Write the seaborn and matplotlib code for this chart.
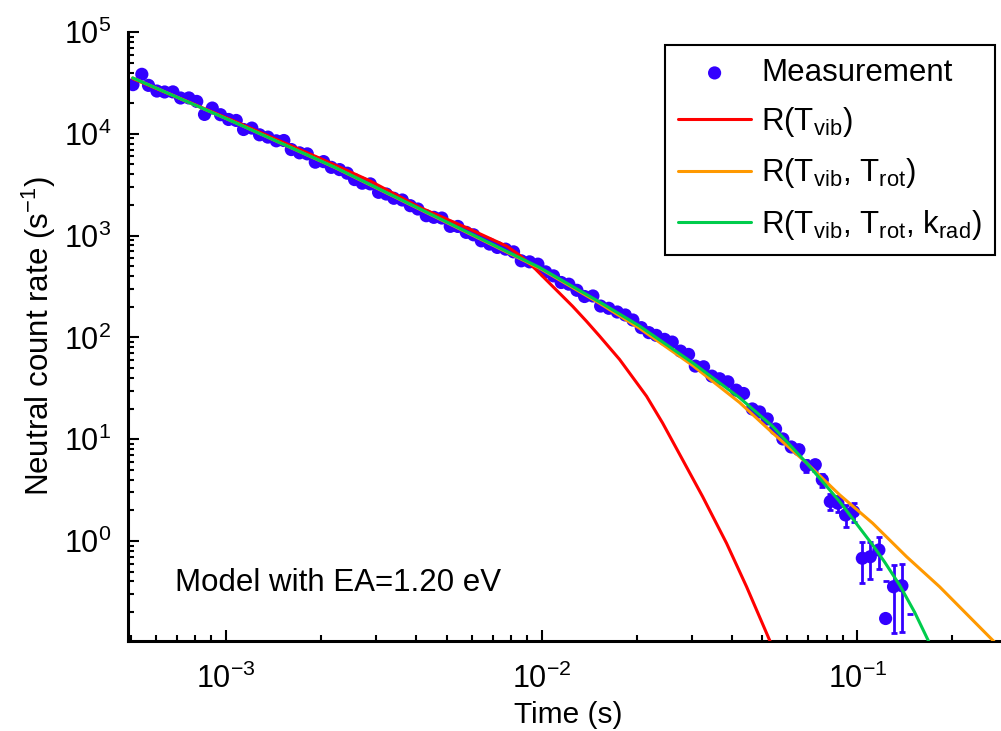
import numpy as np
import pandas as pd
import matplotlib
matplotlib.use("Agg")
import matplotlib.pyplot as plt
from matplotlib.ticker import LogLocator, NullFormatter, FixedLocator
import seaborn as sns

# Measured neutral count rate versus storage time
meas_time = [
    5.08e-4, 5.42e-4, 5.69e-4, 6.05e-4, 6.40e-4, 6.80e-4, 7.19e-4, 7.64e-4, 8.09e-4, 8.56e-4,
    9.06e-4, 9.62e-4, 1.020e-3, 1.079e-3, 1.138e-3, 1.209e-3, 1.279e-3, 1.359e-3, 1.445e-3, 1.527e-3,
    1.612e-3, 1.712e-3, 1.811e-3, 1.920e-3, 2.040e-3, 2.158e-3, 2.292e-3, 2.424e-3, 2.557e-3, 2.704e-3,
    2.867e-3, 3.046e-3, 3.222e-3, 3.405e-3, 3.621e-3, 3.839e-3, 4.057e-3, 4.313e-3, 4.559e-3, 4.832e-3,
    5.137e-3, 5.430e-3, 5.772e-3, 6.088e-3, 6.442e-3, 6.845e-3, 7.240e-3, 7.691e-3, 8.152e-3, 8.624e-3,
    9.162e-3, 9.734e-3, 1.030e-2, 1.091e-2, 1.154e-2, 1.220e-2, 1.294e-2, 1.368e-2, 1.454e-2, 1.538e-2,
    1.633e-2, 1.737e-2, 1.841e-2, 1.946e-2, 2.069e-2, 2.187e-2, 2.308e-2, 2.452e-2, 2.593e-2, 2.755e-2,
    2.921e-2, 3.068e-2, 3.259e-2, 3.462e-2, 3.663e-2, 3.890e-2, 4.135e-2, 4.362e-2, 4.649e-2, 4.903e-2,
    5.185e-2, 5.509e-2, 5.810e-2, 6.177e-2, 6.530e-2, 6.891e-2, 7.358e-2, 7.745e-2, 8.210e-2, 8.678e-2,
    9.179e-2, 9.730e-2, 0.1037, 0.1099, 0.1170, 0.1229, 0.1302, 0.1384, 0.1464,
]
meas_rate = [
    3.04e4, 3.84e4, 2.99e4, 2.63e4, 2.575e4, 2.58e4, 2.247e4, 2.25e4, 2.08e4, 1.55e4,
    1.79e4, 1.54e4, 1.383e4, 1.352e4, 1.102e4, 1.138e4, 9.77e3, 9.28e3, 8.53e3, 8.59e3,
    7.00e3, 6.50e3, 6.35e3, 5.26e3, 5.33e3, 4.68e3, 4.45e3, 4.10e3, 3.55e3, 3.27e3,
    3.22e3, 2.66e3, 2.56e3, 2.325e3, 2.237e3, 1.966e3, 1.824e3, 1.567e3, 1.511e3, 1.487e3,
    1.232e3, 1.23e3, 1.075e3, 1.018e3, 888, 825, 765, 736, 692, 565,
    552, 524, 440, 402, 346, 333, 290, 252, 255, 203,
    193, 177.5, 165.9, 148.1, 124.6, 111.3, 104.6, 95.6, 89.9, 73.3,
    68.0, 52.2, 51.4, 41.6, 39.2, 36.6, 30.3, 28.1, 19.8, 18.5,
    15.8, 12.6, 10.05, 8.38, 7.88, 5.48, 5.61, 3.99, 2.44, 2.35,
    1.80, 1.94, 0.676, 0.700, 0.815, 0.173, 0.355, 0.363, 0.0,
]
# Statistical uncertainty of the last 21 time bins
tail_err = [1.2, 1.2, 1.1, 1.0, 0.9, 0.8, 0.8, 0.7, 0.7, 0.6,
            0.42, 0.43, 0.43, 0.42, 0.29, 0.28, 0.29, 0.23, 0.23, 0.235, 0.19]

# Model curves
rvib_time = [5.07e-4, 1.066e-3, 1.981e-3, 2.852e-3, 4.107e-3, 5.916e-3, 7.748e-3, 8.519e-3,
             9.502e-3, 1.060e-2, 1.157e-2, 1.254e-2, 1.388e-2, 1.526e-2, 1.766e-2, 2.150e-2,
             2.416e-2, 2.796e-2, 3.235e-2, 3.853e-2, 4.459e-2, 5.274e-2, 5.469e-2]
rvib_rate = [3.482e4, 1.328e4, 5.762e3, 3.466e3, 1.896e3, 1.159e3, 788, 642,
             478, 340, 259.3, 202.0, 143.7, 103.0, 60.7, 26.4,
             14.44, 6.28, 2.732, 0.949, 0.3546, 0.1059, 0.0806]

rrot_time = [5.07e-4, 1.066e-3, 2.211e-3, 4.582e-3, 9.855e-3, 1.526e-2, 2.043e-2, 3.008e-2,
             4.238e-2, 5.391e-2, 6.908e-2, 8.786e-2, 0.1118, 0.1432, 0.1822, 0.2682, 0.3035]
rrot_rate = [3.54e4, 1.298e4, 4.677e3, 1.539e3, 478, 216.2, 122.6, 52.98,
             22.88, 11.51, 5.83, 2.840, 1.494, 0.700, 0.3546, 0.1059, 0.0720]

rrad_time = [5.07e-4, 1.066e-3, 2.211e-3, 4.582e-3, 9.855e-3, 1.526e-2, 2.043e-2, 3.008e-2,
             4.238e-2, 5.391e-2, 6.908e-2, 8.786e-2, 0.1118, 0.1220, 0.1361, 0.1518, 0.1681, 0.1744]
rrad_rate = [3.54e4, 1.298e4, 4.70e3, 1.556e3, 486, 222.6, 129.2, 56.3,
             25.5, 13.37, 5.83, 2.439, 0.913, 0.621, 0.3685, 0.1998, 0.1035, 0.0806]

labels = ["Measurement", r"R(T$_{\mathregular{vib}}$)",
          r"R(T$_{\mathregular{vib}}$, T$_{\mathregular{rot}}$)",
          r"R(T$_{\mathregular{vib}}$, T$_{\mathregular{rot}}$, k$_{\mathregular{rad}}$)"]

x_ticks = [1e-3, 1e-2, 1e-1]
y_ticks = [1e0, 1e1, 1e2, 1e3, 1e4, 1e5]

c_meas = "#3300ff"
c_red = "#ff0000"
c_orange = "#ff9900"
c_green = "#00cc4c"

sns.set_theme(style="white")
plt.rcParams["font.family"] = ["Liberation Sans", "DejaVu Sans"]
plt.rcParams["mathtext.fontset"] = "custom"
plt.rcParams["mathtext.rm"] = "Liberation Sans"
plt.rcParams["mathtext.it"] = "Liberation Sans:italic"
plt.rcParams["mathtext.bf"] = "Liberation Sans:bold"
plt.rcParams["axes.unicode_minus"] = False

fig = plt.figure(figsize=(10.01, 7.31), dpi=100)
ax = fig.add_axes([128 / 1001, 90 / 731, 880 / 1001, 609 / 731])
ax.set_xscale("log")
ax.set_yscale("log")

meas = pd.DataFrame({"time": meas_time, "rate": meas_rate})
pos = meas[meas["rate"] > 0]
sns.scatterplot(data=pos, x="time", y="rate", ax=ax, color=c_meas, s=90,
                edgecolor="none", linewidth=0, label=labels[0], zorder=2)

# Error bars for the low-count tail
n_tail = len(tail_err)
tail = meas.iloc[-n_tail:].reset_index(drop=True)
for (t, r), e in zip(tail[["time", "rate"]].values, tail_err):
    if r - e > 0:
        ax.errorbar([t], [r], yerr=[[e], [e]], fmt="none", ecolor=c_meas,
                    elinewidth=2.0, capsize=2.2, capthick=2.0, zorder=2)
    else:
        ax.plot([t], [r + e], marker="_", markersize=4.4, mew=2.0, color=c_meas,
                linestyle="none", zorder=2)

for tt, rr, col, lab in [(rvib_time, rvib_rate, c_red, labels[1]),
                          (rrot_time, rrot_rate, c_orange, labels[2]),
                          (rrad_time, rrad_rate, c_green, labels[3])]:
    sns.lineplot(x=tt, y=rr, ax=ax, color=col, linewidth=2.2, label=lab,
                 estimator=None, sort=False, zorder=3)

ax.set_xlim(4.9e-4, 0.3)
ax.set_ylim(0.104, 1e5)
ax.xaxis.set_major_locator(FixedLocator(x_ticks))
ax.yaxis.set_major_locator(FixedLocator(y_ticks))

for side in ["top", "right"]:
    ax.spines[side].set_visible(False)
for side in ["left", "bottom"]:
    ax.spines[side].set_color("black")
    ax.spines[side].set_linewidth(2.2)

ax.xaxis.set_minor_locator(LogLocator(base=10, subs=np.arange(2, 10), numticks=20))
ax.yaxis.set_minor_locator(LogLocator(base=10, subs=np.arange(2, 10), numticks=20))
ax.xaxis.set_minor_formatter(NullFormatter())
ax.yaxis.set_minor_formatter(NullFormatter())
ax.tick_params(which="both", direction="in", top=False, right=False,
               bottom=True, left=True, color="black", width=1.5)
ax.tick_params(which="major", length=8, labelsize=22, labelcolor="black")
ax.tick_params(axis="x", which="major", pad=16)
ax.tick_params(axis="y", which="major", pad=12)
ax.tick_params(which="minor", length=4.5)

ax.set_xlabel("Time (s)", fontsize=21.5, color="black", labelpad=5)
ax.set_ylabel(r"Neutral count rate (s$^{\mathregular{-1}}$)", fontsize=22.5,
              color="black", labelpad=4)

ax.text(0.053, 0.095, "Model with EA=1.20 eV", transform=ax.transAxes,
        fontsize=22.5, color="black", va="center", ha="left")

handles, hlabels = ax.get_legend_handles_labels()
leg = ax.legend(handles, hlabels, loc="upper right",
                bbox_to_anchor=(995 / 1001, 1 - 45 / 731),
                bbox_transform=fig.transFigure, borderaxespad=0,
                fontsize=22.5, frameon=True, fancybox=False, edgecolor="black",
                framealpha=1, handlelength=2.35, handletextpad=0.32,
                labelspacing=0.55, borderpad=0.42, markerscale=1.0)
leg.get_frame().set_linewidth(1.5)
for txt in leg.get_texts():
    txt.set_color("black")

fig.savefig("out.png", dpi=100)
